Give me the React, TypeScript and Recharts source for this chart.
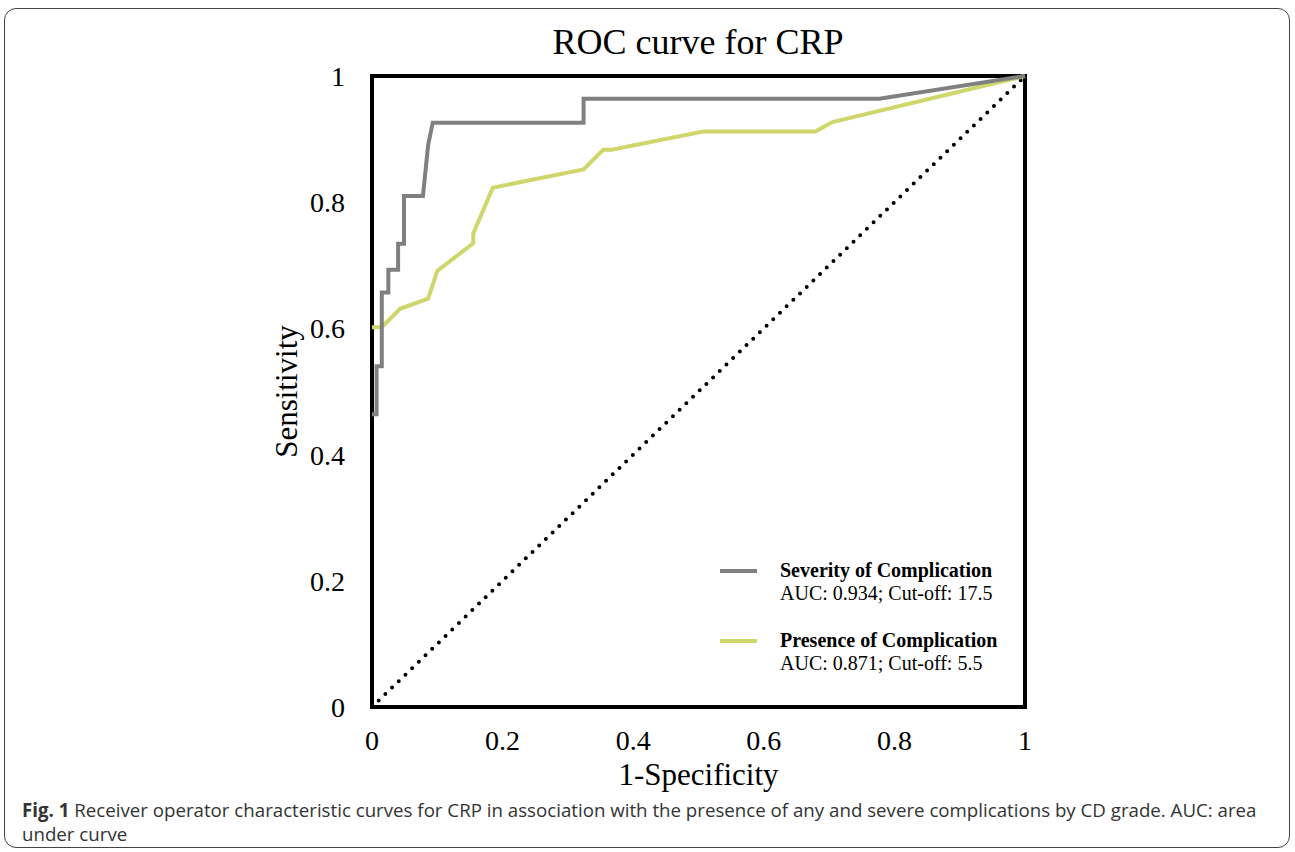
import React from "react";
import {
  LineChart,
  Line,
  XAxis,
  YAxis,
  Legend,
  ReferenceArea,
} from "recharts";

// 1-specificity / sensitivity pairs
const severityFpr = [0, 0.007, 0.007, 0.015, 0.015, 0.025, 0.025, 0.04, 0.04, 0.049, 0.049, 0.078, 0.086, 0.093, 0.324, 0.324, 0.777, 1];
const severitySens = [0.464, 0.464, 0.54, 0.54, 0.657, 0.657, 0.693, 0.693, 0.734, 0.734, 0.81, 0.81, 0.891, 0.926, 0.926, 0.964, 0.964, 1];

const presenceFpr = [0, 0.015, 0.043, 0.086, 0.1, 0.155, 0.155, 0.185, 0.324, 0.354, 0.367, 0.507, 0.679, 0.705, 1];
const presenceSens = [0.602, 0.602, 0.631, 0.647, 0.691, 0.735, 0.75, 0.823, 0.852, 0.883, 0.883, 0.912, 0.912, 0.927, 1];

const chanceFpr = [0, 1];
const chanceSens = [0, 1];

const ticks = [0, 0.2, 0.4, 0.6, 0.8, 1];

const seriesNames = ["Severity of Complication", "Presence of Complication"];
const aucNotes = ["AUC: 0.934; Cut-off: 17.5", "AUC: 0.871; Cut-off: 5.5"];

const zip = (xs: number[], ys: number[]) => xs.map((x, i) => ({ x, y: ys[i] }));

const severityData = zip(severityFpr, severitySens);
const presenceData = zip(presenceFpr, presenceSens);
const chanceData = zip(chanceFpr, chanceSens);

const SERIF = "'Liberation Serif', 'Times New Roman', serif";
const GRAY = "#808080";
const GREEN = "#cfd66b";

const LegendBox = (props: any) => {
  const items = (props.payload || [])
    .filter((p: any) => p.type !== "none")
    .sort((a: any, b: any) => seriesNames.indexOf(a.value) - seriesNames.indexOf(b.value));
  return (
    <div style={{ fontFamily: SERIF, fontSize: 20, lineHeight: "22.5px", color: "#000" }}>
      {items.map((p: any, i: number) => (
        <div key={p.value} style={{ display: "flex", marginTop: i === 0 ? 0 : 25 }}>
          <div style={{ width: 37, height: 4, background: p.color, marginTop: 10, marginRight: 23 }} />
          <div>
            <div style={{ fontWeight: "bold" }}>{p.value}</div>
            <div>{aucNotes[seriesNames.indexOf(p.value)]}</div>
          </div>
        </div>
      ))}
    </div>
  );
};

const XLabel = (props: any) => {
  const { x, y, width } = props.viewBox;
  return (
    <text x={x + width / 2} y={y + 78} textAnchor="middle" fontFamily={SERIF} fontSize={31} fill="#000">
      1-Specificity
    </text>
  );
};

const YLabel = (props: any) => {
  const { x, y, height } = props.viewBox;
  const cx = x + 14.5;
  const cy = y + height / 2;
  return (
    <text
      x={cx}
      y={cy}
      transform={`rotate(-90 ${cx} ${cy})`}
      textAnchor="middle"
      dominantBaseline="central"
      fontFamily={SERIF}
      fontSize={31}
      fill="#000"
    >
      Sensitivity
    </text>
  );
};

export default function App() {
  return (
    <div style={{ position: "absolute", left: 0, top: 0, width: 1295, height: 852, background: "#fff" }}>
      <div
        style={{
          position: "absolute",
          left: 4,
          top: 8,
          width: 1284,
          height: 838,
          border: "1.5px solid #444",
          borderRadius: 12,
        }}
      />
      <div
        style={{
          position: "absolute",
          left: 448,
          top: 24,
          width: 500,
          textAlign: "center",
          fontFamily: SERIF,
          fontSize: 36,
          lineHeight: 1,
          color: "#000",
        }}
      >
        ROC curve for CRP
      </div>
      <div style={{ position: "absolute", left: 0, top: 0 }}>
        <LineChart width={1295} height={852} margin={{ top: 76, right: 270, bottom: 85, left: 272 }}>
          <XAxis
            type="number"
            dataKey="x"
            domain={[0, 1]}
            ticks={ticks}
            axisLine={false}
            tickLine={false}
            tickSize={0}
            tickMargin={23}
            height={60}
            tick={{ fontFamily: SERIF, fontSize: 28, fill: "#000" }}
            label={<XLabel />}
          />
          <YAxis
            type="number"
            dataKey="y"
            domain={[0, 1]}
            ticks={ticks}
            axisLine={false}
            tickLine={false}
            tickSize={0}
            tickMargin={27}
            width={100}
            tick={{ fontFamily: SERIF, fontSize: 28, fill: "#000" }}
            label={<YLabel />}
          />
          <ReferenceArea x1={0} x2={1} y1={0} y2={1} fill="none" stroke="#000" strokeWidth={4} />
          <Legend
            layout="horizontal"
            verticalAlign="middle"
            align="center"
            content={<LegendBox />}
            wrapperStyle={{ left: 720, top: 559, width: 320 }}
          />
          <Line
            data={chanceData}
            dataKey="y"
            name="chance"
            legendType="none"
            stroke="#000"
            strokeWidth={4}
            strokeDasharray="0 9.3"
            strokeLinecap="round"
            dot={false}
            activeDot={false}
            isAnimationActive={false}
          />
          <Line
            data={presenceData}
            dataKey="y"
            name={seriesNames[1]}
            type="linear"
            stroke={GREEN}
            strokeWidth={4}
            dot={false}
            activeDot={false}
            isAnimationActive={false}
          />
          <Line
            data={severityData}
            dataKey="y"
            name={seriesNames[0]}
            type="linear"
            stroke={GRAY}
            strokeWidth={4}
            dot={false}
            activeDot={false}
            isAnimationActive={false}
          />
        </LineChart>
      </div>
      <div
        style={{
          position: "absolute",
          left: 22,
          top: 798,
          fontFamily: "'Open Sans', sans-serif",
          fontSize: 18.7,
          lineHeight: "23.5px",
          color: "#333",
        }}
      >
        <b>Fig. 1</b> Receiver operator characteristic curves for CRP in association with the presence of any and
        severe complications by CD grade. AUC: area
        <br />
        under curve
      </div>
    </div>
  );
}
